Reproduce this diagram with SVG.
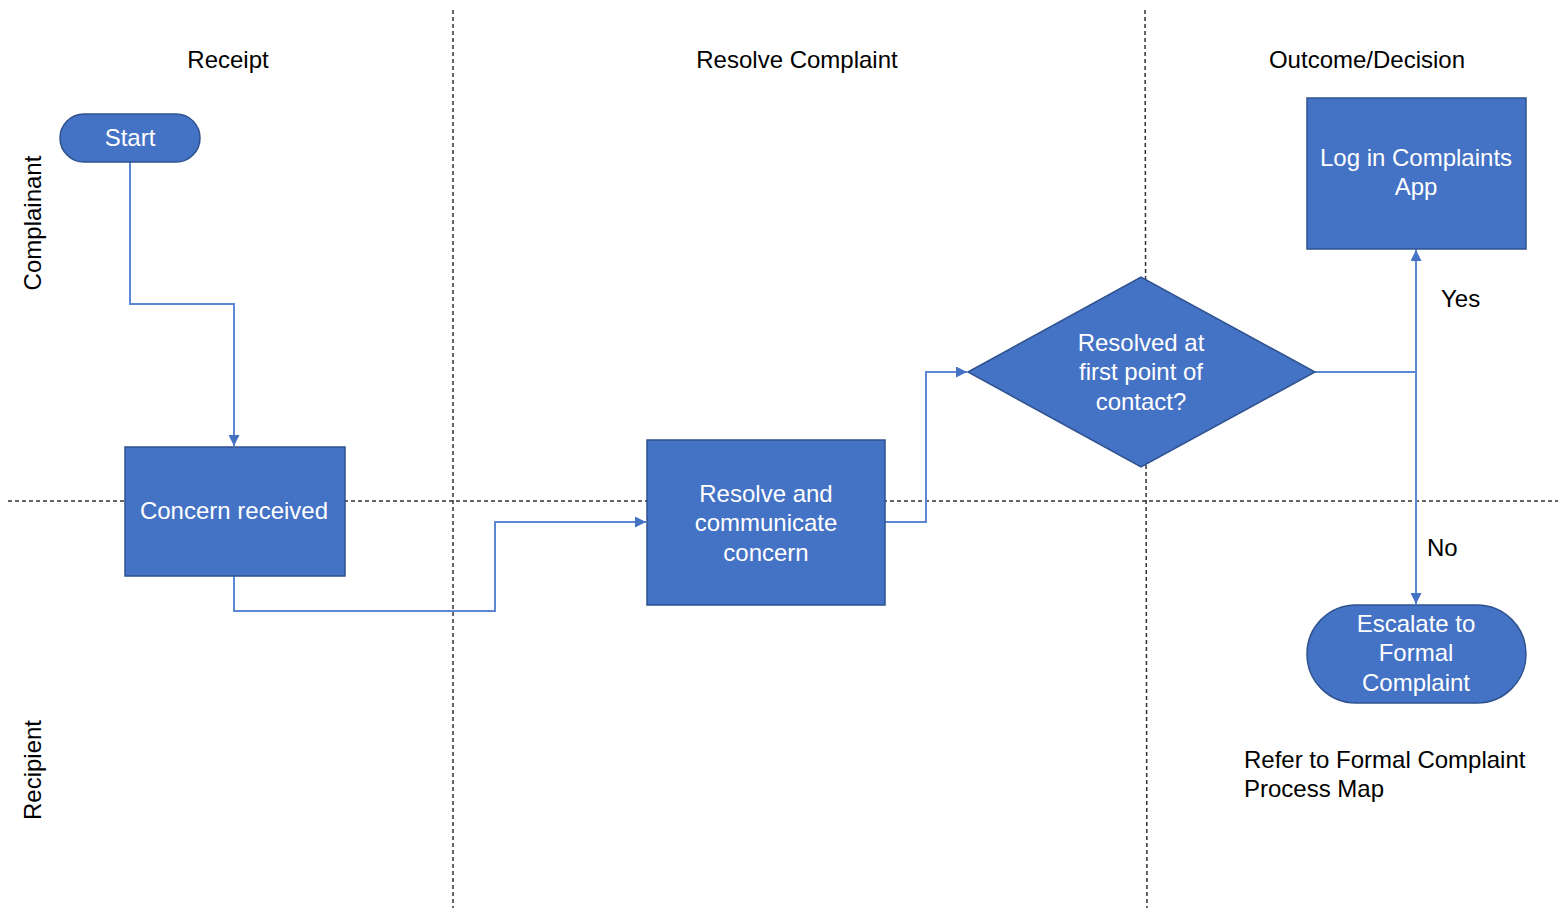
<svg xmlns="http://www.w3.org/2000/svg" width="1560" height="908" viewBox="0 0 1560 908">
<style>
.lane{stroke:#333;stroke-width:1.5;stroke-dasharray:4 3;fill:none}
.box{fill:#4472C4;stroke:#2F528F;stroke-width:1.5}
.t{font-family:"Liberation Sans",Arial,sans-serif;font-size:24px;fill:#fff;text-anchor:middle}
.k{font-family:"Liberation Sans",Arial,sans-serif;font-size:24px;fill:#000}
.c{stroke:#5B87D4;stroke-width:2;fill:none}
</style>
<defs>
<marker id="arr" viewBox="0 0 10 10" refX="10" refY="5" markerWidth="5.5" markerHeight="5.5" orient="auto" markerUnits="strokeWidth">
<path d="M0,0 L10,5 L0,10 z" fill="#4472C4"/>
</marker>
</defs>
<rect width="1560" height="908" fill="#fff"/>
<g id="lanes">
<line class="lane" x1="453" y1="10" x2="453" y2="908"/>
<line class="lane" x1="1145" y1="10" x2="1147" y2="908"/>
<line class="lane" x1="8" y1="501" x2="1558" y2="501"/>
</g>
<g id="headers">
<text class="k" x="228" y="68" text-anchor="middle">Receipt</text>
<text class="k" x="797" y="68" text-anchor="middle">Resolve Complaint</text>
<text class="k" x="1367" y="68" text-anchor="middle">Outcome/Decision</text>
<text class="k" transform="translate(41,223) rotate(-90)" text-anchor="middle">Complainant</text>
<text class="k" transform="translate(41,770) rotate(-90)" text-anchor="middle">Recipient</text>
</g>
<g id="connectors">
<polyline class="c" points="130,162 130,304 234,304 234,446" marker-end="url(#arr)"/>
<polyline class="c" points="234,576 234,611 495,611 495,522 646,522" marker-end="url(#arr)"/>
<polyline class="c" points="885,522 926,522 926,372 967,372" marker-end="url(#arr)"/>
<polyline class="c" points="1315,372 1416,372"/>
<line class="c" x1="1416" y1="372" x2="1416" y2="250" marker-end="url(#arr)"/>
<line class="c" x1="1416" y1="372" x2="1416" y2="604" marker-end="url(#arr)"/>
<text class="k" x="1441" y="307">Yes</text>
<text class="k" x="1427" y="556">No</text>
</g>
<g id="start">
<rect class="box" x="60" y="114" width="140" height="48" rx="24"/>
<text class="t" x="130" y="146">Start</text>
</g>
<g id="concern-received">
<rect class="box" x="125" y="447" width="220" height="129"/>
<text class="t" x="234" y="519">Concern received</text>
</g>
<g id="resolve-communicate">
<rect class="box" x="647" y="440" width="238" height="165"/>
<text class="t" x="766" y="502">Resolve and</text>
<text class="t" x="766" y="531">communicate</text>
<text class="t" x="766" y="561">concern</text>
</g>
<g id="decision">
<polygon class="box" points="968,372 1141,277 1315,372 1141,467"/>
<text class="t" x="1141" y="351">Resolved at</text>
<text class="t" x="1141" y="380">first point of</text>
<text class="t" x="1141" y="410">contact?</text>
</g>
<g id="log-app">
<rect class="box" x="1307" y="98" width="219" height="151"/>
<text class="t" x="1416" y="166">Log in Complaints</text>
<text class="t" x="1416" y="195">App</text>
</g>
<g id="escalate">
<rect class="box" x="1307" y="605" width="219" height="98" rx="49"/>
<text class="t" x="1416" y="632">Escalate to</text>
<text class="t" x="1416" y="661">Formal</text>
<text class="t" x="1416" y="691">Complaint</text>
</g>
<g id="note">
<text class="k" x="1244" y="768">Refer to Formal Complaint</text>
<text class="k" x="1244" y="797">Process Map</text>
</g>
</svg>
